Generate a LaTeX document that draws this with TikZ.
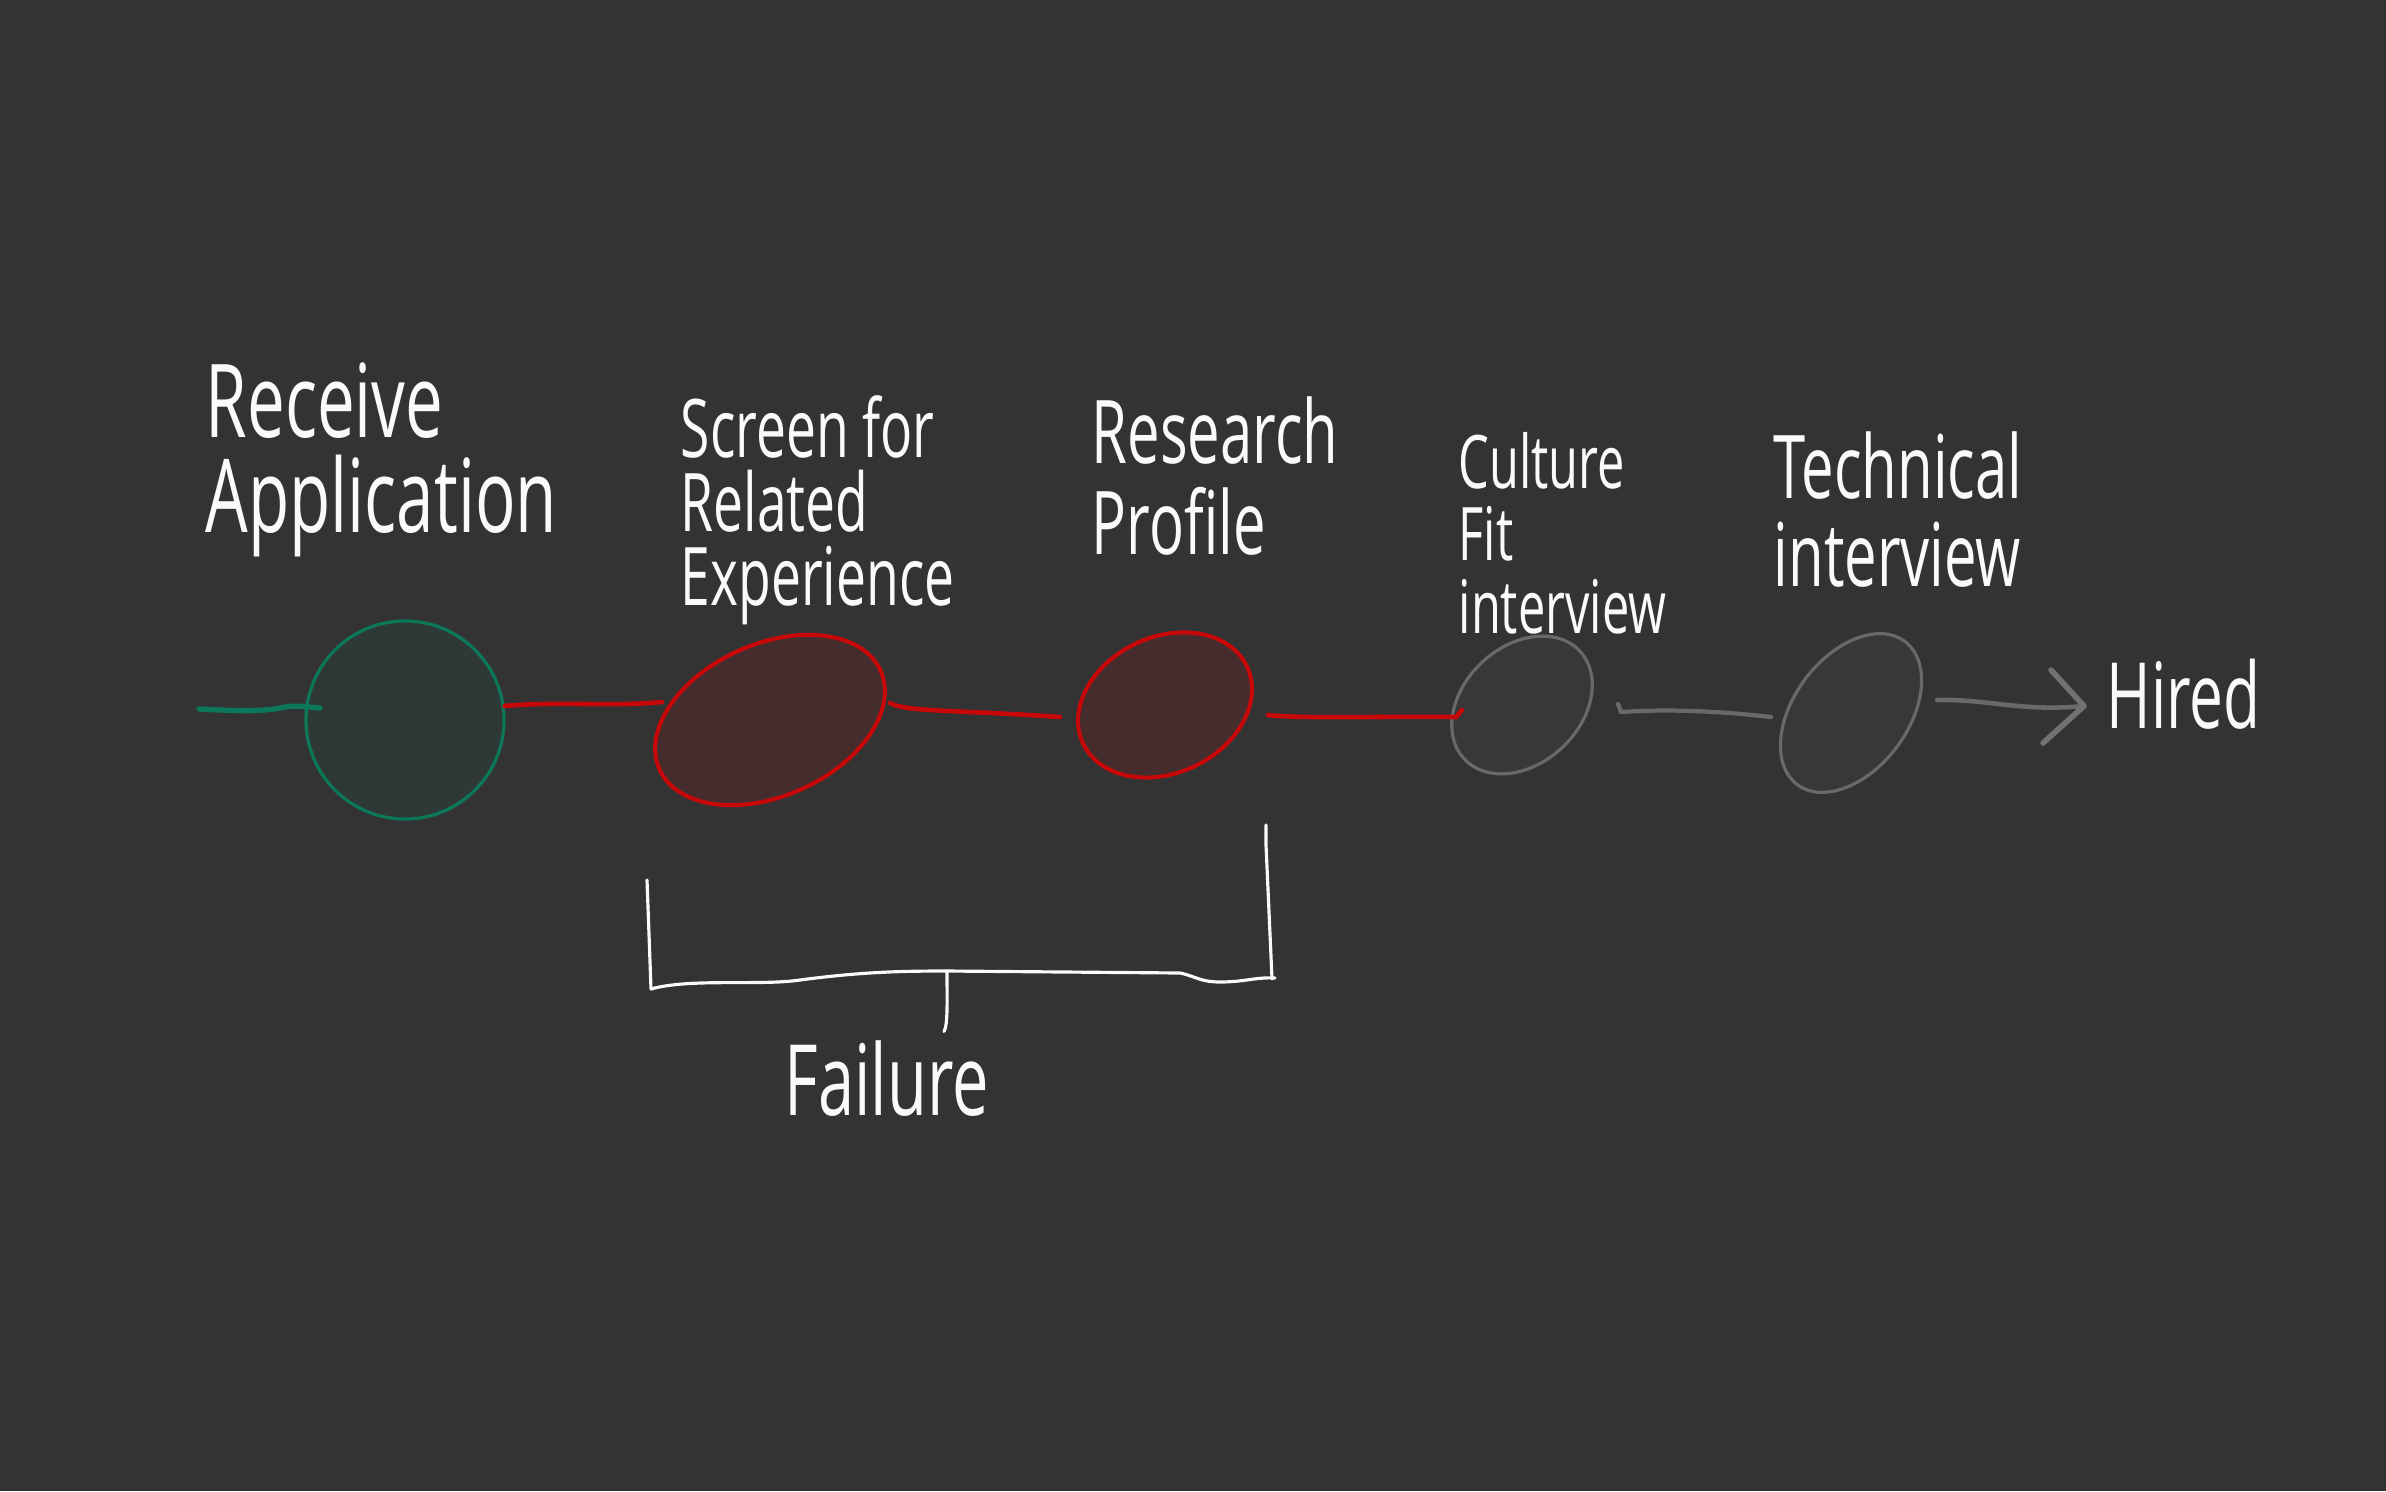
\documentclass[tikz,border=0pt]{standalone}
\usepackage{fontspec}
\newfontfamily\hand[FakeStretch=0.66]{Open Sans}
\usetikzlibrary{shapes.geometric,calc}
\definecolor{bg}{RGB}{51,51,51}
\definecolor{gstroke}{RGB}{12,120,90}
\definecolor{gfill}{RGB}{46,57,54}
\definecolor{rstroke}{RGB}{200,8,8}
\definecolor{rfill}{RGB}{69,45,45}
\definecolor{ystroke}{RGB}{105,105,105}
\definecolor{yfill}{RGB}{56,56,56}
\definecolor{ink}{RGB}{250,250,250}
\tikzset{
  stage/.style={inner sep=0pt, line width=0.9pt},
  greenstage/.style={stage, circle, draw=gstroke, fill=gfill, minimum size=1.98cm},
  redstage/.style={stage, ellipse, draw=rstroke, fill=rfill, line width=1.15pt},
  graystage/.style={stage, ellipse, draw=ystroke, fill=yfill, line width=0.9pt},
  stagetext/.style={text=ink, inner sep=0pt, align=left},
  gline/.style={draw=gstroke, line width=1.5pt, line cap=round},
  rline/.style={draw=rstroke, line width=1.3pt, line cap=round},
  yline/.style={draw=ystroke, line width=1.2pt, line cap=round},
  ahead/.style={draw=ystroke!95!white, line width=1.6pt, line cap=round, line join=round},
  bracket/.style={draw=ink, line width=0.9pt, line cap=round, line join=round}
}
\begin{document}
\begin{tikzpicture}[x=0.01cm,y=-0.01cm]
\fill[bg] (0,0) rectangle (2386,1491);
\useasboundingbox (0,0) rectangle (2386,1491);

% stages
\node[greenstage] (g) at (405,720) {};
\node[redstage, minimum width=2.42cm, minimum height=1.52cm, rotate=24] (r1) at (770,720) {};
\node[redstage, minimum width=1.81cm, minimum height=1.36cm, rotate=25] (r2) at (1165,705) {};
\node[graystage, minimum width=1.58cm, minimum height=1.17cm, rotate=43] (c1) at (1522,705) {};
\node[graystage, minimum width=1.79cm, minimum height=1.14cm, rotate=53] (c2) at (1851,713) {};

% labels
\node[stagetext, anchor=north west, font={\hand\fontsize{29}{27}\selectfont}] (tg) at (205,362) {Receive\\Application};
\node[stagetext, anchor=north west, font={\hand\fontsize{23}{21}\selectfont}] (tr1) at (680,395) {Screen for\\Related\\Experience};
\node[stagetext, anchor=north west, font={\hand\fontsize{25}{26}\selectfont}] (tr2) at (1091,396) {Research\\Profile};
\node[stagetext, anchor=north west, font={\hand\fontsize{21}{20.5}\selectfont}] (tc1) at (1458,432) {Culture\\Fit\\interview};
\node[stagetext, anchor=north west, font={\hand\fontsize{25}{25}\selectfont}] (tc2) at (1773,431) {Technical\\interview};
\node[stagetext, anchor=base west, font={\hand\fontsize{26}{26}\selectfont}] (hired) at (2106,728) {Hired};
\node[stagetext, anchor=base west, font={\hand\fontsize{28}{28}\selectfont}] (fail) at (784,1115) {Failure};

% connectors
\coordinate (gs) at (199,709);
\draw[gline] (gs) .. controls (240,711) and (262,712) .. (285,707)
  .. controls (296,705) and (306,707) .. ($(g.center)+(-85,-12)$);
\draw[rline] (g.8) .. controls (560,701) and (610,707) .. ($(r1.center)+(-108,-18)$);
\draw[rline] ($(r1.center)+(120,-17)$) .. controls (905,712) and (960,710) .. ($(r2.center)+(-105,12)$);
\draw[rline] ($(r2.center)+(103,10)$) .. controls (1300,719) and (1400,716) .. ($(c1.center)+(-66,12)$)
  -- ($(c1.center)+(-60,5)$);
\draw[yline] ($(c1.center)+(96,-1)$) -- ($(c1.center)+(99,7)$)
  .. controls (1680,708) and (1735,713) .. ($(c2.center)+(-80,4)$);
\coordinate (tip) at ($(hired.base west)+(-22,-22)$);
\draw[yline, line width=1.3pt] ($(c2.center)+(86,-13)$) .. controls (1990,699) and (2020,712) .. (tip);
\draw[ahead] ($(tip)+(-33,-36)$) -- (tip) -- ($(tip)+(-41,37)$);

% failure bracket
\draw[bracket] (647,880) -- (651,989) .. controls (690,978) and (760,986) .. (800,980)
  .. controls (860,972) and (900,971) .. (947,971)
  -- (1180,973) .. controls (1195,976) and (1200,982) .. (1220,982)
  .. controls (1245,982) and (1255,977) .. (1275,978);
\draw[bracket] (1266,825) -- (1266,845) -- (1272,979);
\draw[bracket] (947,971) .. controls (947,1000) and (948,1025) .. ($(fail.north west)+(160,-8)$);
\end{tikzpicture}
\end{document}
